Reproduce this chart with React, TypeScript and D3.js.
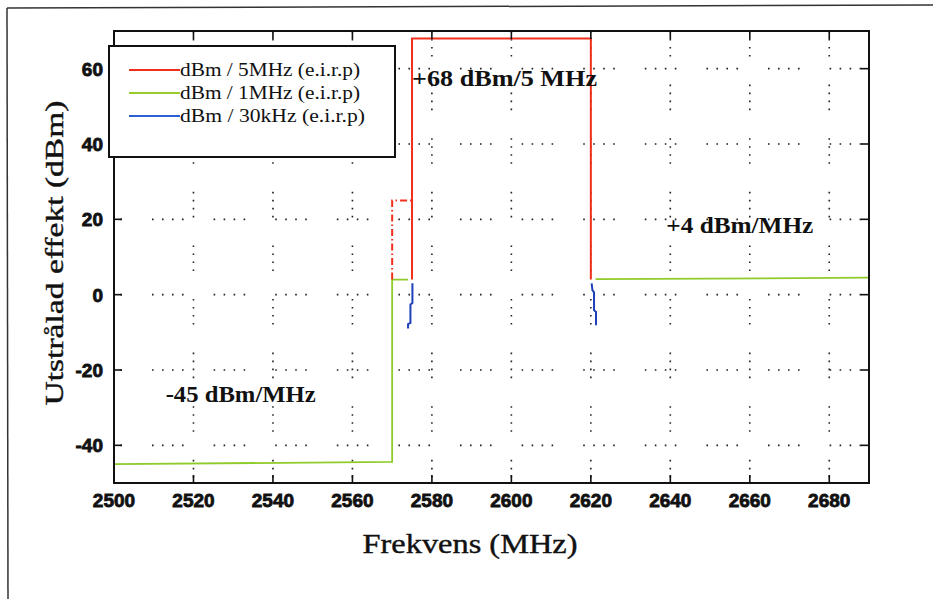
import React from "react";
import * as d3 from "d3";

// ---- data ----
const xTicks = [2500, 2520, 2540, 2560, 2580, 2600, 2620, 2640, 2660, 2680];
const yTicks = [-40, -20, 0, 20, 40, 60];
const xDomain = [2500, 2690];
const yDomain = [-50, 70];

// dBm / 5MHz (red)
const red5X = [2575, 2575, 2620, 2620];
const red5Y = [4, 68, 68, 4];
// red dash-dot shoulder
const redDashX = [2570, 2570, 2575];
const redDashY = [4, 25, 25];
// dBm / 1MHz (green), two segments
const green1aX = [2500, 2570, 2570, 2574];
const green1aY = [-45, -44.4, 4, 4];
const green1bX = [2621.2, 2690];
const green1bY = [4.1, 4.5];
// dBm / 30kHz (blue), two segments
const blueAX = [2575.1, 2575.1, 2574.6, 2574.6, 2574.0, 2574.0];
const blueAY = [3, -2.2, -2.6, -7.5, -7.8, -9];
const blueBX = [2620.2, 2620.4, 2620.8, 2620.8, 2621.3, 2621.3];
const blueBY = [3, 1.2, 0.6, -4.1, -4.6, -8.1];

const legendLabels = ["dBm / 5MHz (e.i.r.p)", "dBm / 1MHz (e.i.r.p)", "dBm / 30kHz (e.i.r.p)"];
const legendColors = ["#f0301c", "#96cc2c", "#2a5fd8"];

const annotations = [
  { text: "+68 dBm/5 MHz", x: 2575, y: 55.5, len: 185 },
  { text: "+4 dBm/MHz", x: 2639, y: 16.5, len: 147 },
  { text: "-45 dBm/MHz", x: 2513, y: -28.5, len: 150 },
];

const W = 933;
const H = 599;
const plot = { left: 114, right: 869, top: 31, bottom: 483 };

export default function App() {
  const x = d3.scaleLinear().domain(xDomain).range([plot.left, plot.right]);
  const y = d3.scaleLinear().domain(yDomain).range([plot.bottom, plot.top]);
  const line = d3
    .line<[number, number]>()
    .x((d) => x(d[0]))
    .y((d) => y(d[1]));
  const zip = (xs: number[], ys: number[]) => xs.map((v, i) => [v, ys[i]] as [number, number]);

  const tickLen = 8;
  const tickFont = "'Liberation Sans', Arial, sans-serif";
  const serif = "'Liberation Serif', 'Times New Roman', serif";

  return (
    <svg
      width={W}
      height={H}
      style={{ position: "absolute", left: 0, top: 0, background: "#fff" }}
    >
      <rect x={0} y={0} width={W} height={H} fill="#fff" />
      {/* outer frame */}
      <line x1={7} y1={8} x2={933} y2={5} stroke="#333" strokeWidth={1.5} />
      <line x1={7} y1={8} x2={8} y2={599} stroke="#333" strokeWidth={1.5} />

      {/* grid */}
      <g>
        {yTicks.map((t) => (
          <line
            key={"gy" + t}
            x1={plot.left}
            x2={plot.right}
            y1={y(t)}
            y2={y(t)}
            stroke="#222"
            strokeWidth={1.6}
            strokeDasharray="1.6,8.4,1.6,8.4,1.6,8.4,1.6,30"
            strokeDashoffset={-38}
          />
        ))}
        {xTicks.slice(1).map((t) => (
          <line
            key={"gx" + t}
            x1={x(t)}
            x2={x(t)}
            y1={plot.top}
            y2={plot.bottom}
            stroke="#222"
            strokeWidth={1.6}
            strokeDasharray="1.6,6.4,1.6,6.4,1.6,6.4,1.6,28"
          />
        ))}
      </g>

      {/* data lines */}
      <path d={line(zip(green1aX, green1aY)) || ""} fill="none" stroke="#8fcb2a" strokeWidth={1.8} />
      <path d={line(zip(green1bX, green1bY)) || ""} fill="none" stroke="#8fcb2a" strokeWidth={1.8} />
      <path
        d={line(zip(redDashX, redDashY)) || ""}
        fill="none"
        stroke="#f0301c"
        strokeWidth={2}
        strokeDasharray="7,3,1.5,3"
      />
      <path d={line(zip(red5X, red5Y)) || ""} fill="none" stroke="#f0301c" strokeWidth={2} />
      <path d={line(zip(blueAX, blueAY)) || ""} fill="none" stroke="#1e40b8" strokeWidth={2} />
      <path d={line(zip(blueBX, blueBY)) || ""} fill="none" stroke="#1e40b8" strokeWidth={2} />

      {/* axes box */}
      <rect
        x={plot.left}
        y={plot.top}
        width={plot.right - plot.left}
        height={plot.bottom - plot.top}
        fill="none"
        stroke="#111"
        strokeWidth={2}
      />
      {/* ticks */}
      {xTicks.map((t) => (
        <g key={"xt" + t}>
          <line x1={x(t)} x2={x(t)} y1={plot.bottom} y2={plot.bottom - tickLen} stroke="#111" strokeWidth={1.6} />
          <line x1={x(t)} x2={x(t)} y1={plot.top} y2={plot.top + tickLen} stroke="#111" strokeWidth={1.6} />
          <text
            x={x(t)}
            y={507}
            textAnchor="middle"
            fontFamily={tickFont}
            fontWeight="bold"
            fontSize={19}
            fill="#111"
            stroke="#111"
            strokeWidth={0.8}
          >
            {t}
          </text>
        </g>
      ))}
      {yTicks.map((t) => (
        <g key={"yt" + t}>
          <line x1={plot.left} x2={plot.left + tickLen} y1={y(t)} y2={y(t)} stroke="#111" strokeWidth={1.6} />
          <line x1={plot.right} x2={plot.right - tickLen} y1={y(t)} y2={y(t)} stroke="#111" strokeWidth={1.6} />
          <text
            x={103}
            y={y(t) + 7}
            textAnchor="end"
            fontFamily={tickFont}
            fontWeight="bold"
            fontSize={19}
            fill="#111"
            stroke="#111"
            strokeWidth={0.8}
          >
            {t}
          </text>
        </g>
      ))}

      {/* annotations */}
      {annotations.map((a) => (
        <text
          key={a.text}
          x={x(a.x)}
          y={y(a.y)}
          fontFamily={serif}
          fontWeight="bold"
          fontSize={23}
          fill="#111"
          textLength={a.len}
          lengthAdjust="spacingAndGlyphs"
        >
          {a.text}
        </text>
      ))}

      {/* axis titles */}
      <text
        x={470}
        y={553}
        textAnchor="middle"
        fontFamily={serif}
        fontSize={28}
        fill="#111"
        stroke="#111"
        strokeWidth={0.4}
        textLength={215}
        lengthAdjust="spacingAndGlyphs"
      >
        Frekvens (MHz)
      </text>
      <text
        transform={`translate(63,253) rotate(-90)`}
        textAnchor="middle"
        fontFamily={serif}
        fontSize={26}
        fill="#111"
        stroke="#111"
        strokeWidth={0.4}
        textLength={305}
        lengthAdjust="spacingAndGlyphs"
      >
        Utstrålad effekt (dBm)
      </text>

      {/* legend */}
      <g>
        <rect x={109} y={46} width={286} height={111} fill="#fff" stroke="#111" strokeWidth={2} />
        {legendLabels.map((lab, i) => {
          const ly = 70 + i * 23;
          return (
            <g key={lab}>
              <line x1={129} x2={180} y1={ly} y2={ly} stroke={legendColors[i]} strokeWidth={1.8} />
              <text
                x={180}
                y={ly + 6}
                fontFamily={serif}
                fontSize={18}
                fill="#111"
                textLength={i === 2 ? 185 : 180}
                lengthAdjust="spacingAndGlyphs"
              >
                {lab}
              </text>
            </g>
          );
        })}
      </g>
    </svg>
  );
}
